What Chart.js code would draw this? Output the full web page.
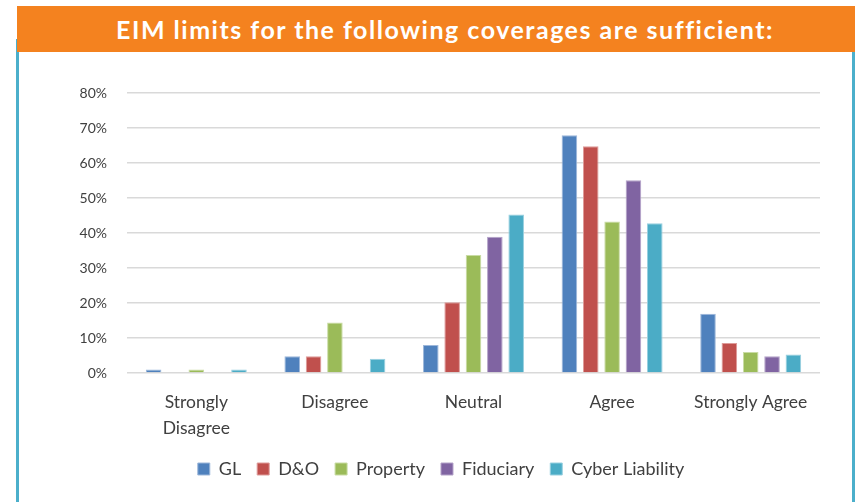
<!DOCTYPE html>
<html>
<head>
<meta charset="utf-8">
<script src="https://cdn.jsdelivr.net/npm/chart.js@4"></script>
<style>
  html, body { margin: 0; padding: 0; background: #fff; }
  body { width: 855px; height: 502px; position: relative; overflow: hidden; }
  #header { position: absolute; left: 17px; top: 6px; width: 838px; height: 46px; background: #F4821F; }
  #title { position: absolute; left: 0; top: 6px; width: 890px; height: 46px; line-height: 46px; text-align: center;
           color: #fff; font-family: "Lato", sans-serif; font-weight: bold; font-size: 25px; letter-spacing: 1.5px; }
  .vline { position: absolute; top: 39px; bottom: 0; width: 3px; background: #4BAFCB; }
  #chartWrap { position: absolute; left: 0; top: 0; width: 855px; height: 502px; }
</style>
</head>
<body>
<div class="vline" style="left:16px"></div>
<div class="vline" style="left:852px"></div>
<div id="header"></div>
<div id="title">EIM limits for the following coverages are sufficient:</div>
<div id="chartWrap"><canvas id="c" width="855" height="502"></canvas></div>
<script>
const categories = [["Strongly", "Disagree"], "Disagree", "Neutral", "Agree", "Strongly Agree"];
const seriesNames = ["GL", "D&O", "Property", "Fiduciary", "Cyber Liability"];
const glValues        = [1.0, 4.8, 8.0, 67.9, 16.9];
const dnoValues       = [0.0, 4.8, 20.2, 64.8, 8.6];
const propertyValues  = [1.0, 14.4, 33.7, 43.3, 6.0];
const fiduciaryValues = [0.0, 0.0, 38.9, 55.1, 4.8];
const cyberValues     = [1.0, 4.1, 45.3, 42.8, 5.3];
const yTickValues = [0, 10, 20, 30, 40, 50, 60, 70, 80];

const colors = ["#4F81BD", "#C0504D", "#9BBB59", "#8064A2", "#4BACC6"];
const borders = ["#9DB7DA", "#DE9B99", "#C9DCA4", "#B3A2C8", "#98D0E0"];
const allValues = [glValues, dnoValues, propertyValues, fiduciaryValues, cyberValues];

const datasets = seriesNames.map((name, i) => ({
  label: name,
  data: allValues[i],
  backgroundColor: colors[i],
  borderColor: borders[i],
  borderWidth: 1,
  categoryPercentage: 0.77,
  barPercentage: 0.73
}));

const FONT = "Lato";
new Chart(document.getElementById("c"), {
  type: "bar",
  data: { labels: categories, datasets },
  options: {
    responsive: false,
    animation: false,
    devicePixelRatio: 1,
    layout: { padding: { top: 93, left: 62, right: 35, bottom: 14 } },
    plugins: {
      tooltip: { enabled: false },
      legend: {
        position: "bottom",
        labels: {
          boxWidth: 12, boxHeight: 12, padding: 16,
          color: "#404040",
          font: { family: FONT, size: 18 }
        }
      }
    },
    scales: {
      x: {
        grid: { display: false, drawTicks: false },
        border: { display: false },
        ticks: { color: "#404040", font: { family: FONT, size: 17.5, lineHeight: 1.45 }, padding: 17, maxRotation: 0, autoSkip: false },
        afterFit: s => { s.height = 71; }
      },
      y: {
        min: 0, max: 80,
        grid: { color: "#D9D9D9", lineWidth: 1.5, drawTicks: false },
        border: { display: false },
        afterBuildTicks: s => { s.ticks = yTickValues.map(v => ({ value: v })); },
        ticks: { color: "#404040", font: { family: FONT, size: 14 }, padding: 20, callback: v => v + "%" },
        afterFit: s => { s.width = 65; }
      }
    }
  }
});
</script>
</body>
</html>
